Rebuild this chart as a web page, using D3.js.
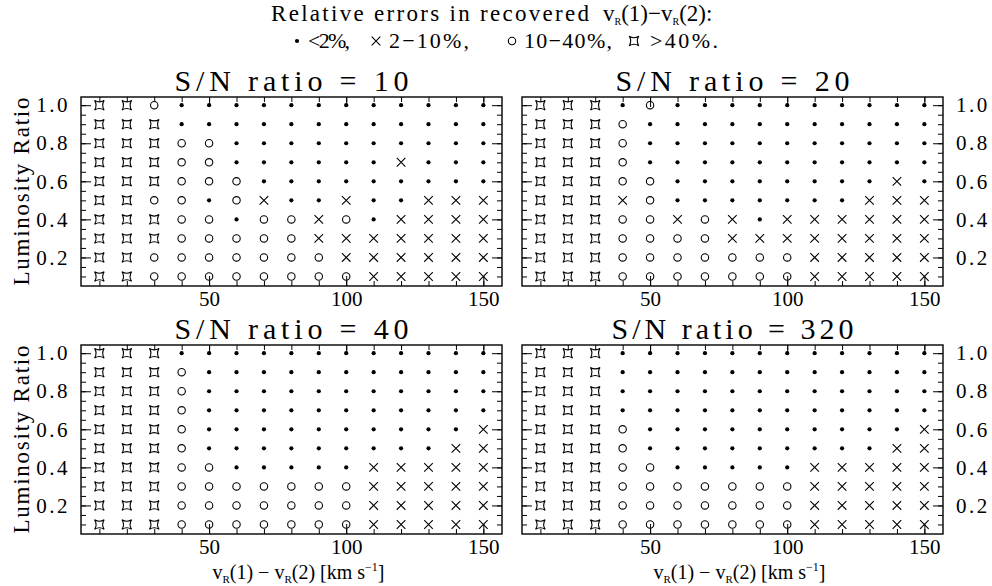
<!DOCTYPE html>
<html><head><meta charset="utf-8">
<script src="https://cdn.jsdelivr.net/npm/d3@7"></script>
<style>body{margin:0;background:#fff}text{font-family:"Liberation Serif",serif;fill:#000}</style>
</head><body>
<svg id="c" width="992" height="586"></svg>
<script>
// ---------- data ----------
const xValues = [10,20,30,40,50,60,70,80,90,100,110,120,130,140,150];
const yValues = [1.0,0.9,0.8,0.7,0.6,0.5,0.4,0.3,0.2,0.1];   // rows top -> bottom
const xTickLabels = [50,100,150];
const xMinorTicks = [10,20,30,40,50,60,70,80,90,100,110,120,130,140,150];
const yTickLabels = [0.2,0.4,0.6,0.8,1.0];
const yMinorTicks = [0.1,0.15,0.2,0.25,0.3,0.35,0.4,0.45,0.5,0.55,0.6,0.65,0.7,0.75,0.8,0.85,0.9,0.95,1.0];
const panelTitles = ["S/N ratio = 10","S/N ratio = 20","S/N ratio = 40","S/N ratio = 320"];
// codes: D = <2%, X = 2-10%, O = 10-40%, S = >40%
const gridSN10 = [
  "SSODDDDDDDDDDDD",
  "SSSDDDDDDDDDDDD",
  "SSSOODDDDDDDDDD",
  "SSSOODDDDDDXDDD",
  "SSSOOODDDDDDDDD",
  "SSOODOXDDXDDXXX",
  "SSSOODOOXODXXXX",
  "SSSOOOOOXXXXXXX",
  "SSOOOOOOOXXXXXX",
  "SSOOOOOOOOXXXXX"];
const gridSN20 = [
  "SSSDODDDDDDDDDD",
  "SSSODDDDDDDDDDD",
  "SSSODDDDDDDDDDD",
  "SSSODDDDDDDDDDD",
  "SSSOODDDDDDDDXD",
  "SSSXODDDDDDDXXX",
  "SSSOOXOXDXXXXXX",
  "SSSOOOOXXXXXXXX",
  "SSSOOOOOOOXXXXX",
  "SSSOOOOOOOXXXXX"];
const gridSN40 = [
  "SSSDDDDDDDDDDDD",
  "SSSODDDDDDDDDDD",
  "SSSODDDDDDDDDDD",
  "SSSODDDDDDDDDDD",
  "SSSODDDDDDDDDDX",
  "SSSODDDDDDDDDXX",
  "SSSOODDDDDXXXXX",
  "SSSOOOOOOOXXXXX",
  "SSSOOOOOOOXXXXX",
  "SSSOOOOOOOXXXXX"];
const gridSN320 = [
  "SSSDDDDDDDDDDDD",
  "SSSDDDDDDDDDDDD",
  "SSSDDDDDDDDDDDD",
  "SSSDDDDDDDDDDDD",
  "SSSODDDDDDDDDDX",
  "SSSODDDDDDDDDXX",
  "SSSOODDDDDXXXXX",
  "SSSOOOOOOOXXXXX",
  "SSSOOOOOOOXXXXX",
  "SSSOOOOOOOXXXXX"];
const legendCodes = ["D","X","O","S"];
const legendLabels = ["<2%,","2\u221210%,","10\u221240%,",">40%."];

// ---------- layout ----------
const svg = d3.select("#c");
const W = 421, H = 189;
const panelX = [81, 522], panelY = [97, 345];
const grids = [gridSN10, gridSN20, gridSN40, gridSN320];
const xDomain = [3.3, 156.8], yDomain = [0.05, 1.043];
const FONT = '"Liberation Serif",serif';

function symbol(g, code, cx, cy) {
  if (code === "D") {
    g.append("circle").attr("cx",cx).attr("cy",cy).attr("r",2.1).attr("fill","#000");
  } else if (code === "X") {
    const s = 4.3;
    g.append("path").attr("d",`M${cx-s},${cy-s}L${cx+s},${cy+s}M${cx-s},${cy+s}L${cx+s},${cy-s}`)
      .attr("stroke","#000").attr("stroke-width",1.1).attr("fill","none");
  } else if (code === "O") {
    g.append("circle").attr("cx",cx).attr("cy",cy).attr("r",3.7).attr("fill","none")
      .attr("stroke","#000").attr("stroke-width",1.1);
  } else {
    const s = 4.8, c = 1.8;
    g.append("path").attr("d",
      `M${cx-s},${cy-s}Q${cx},${cy-c} ${cx+s},${cy-s}Q${cx+c},${cy} ${cx+s},${cy+s}Q${cx},${cy+c} ${cx-s},${cy+s}Q${cx-c},${cy} ${cx-s},${cy-s}Z`)
      .attr("stroke","#000").attr("stroke-width",1.1).attr("fill","none");
  }
}

grids.forEach((grid, i) => {
  const col = i % 2, row = Math.floor(i / 2);
  const x0 = panelX[col], y0 = panelY[row];
  const x = d3.scaleLinear().domain(xDomain).range([x0, x0 + W]);
  const y = d3.scaleLinear().domain(yDomain).range([y0 + H, y0]);
  const g = svg.append("g");

  // ticks (all pointing inward)
  const axes = [
    [d3.axisBottom(x).tickValues(xMinorTicks).tickSize(-5).tickFormat(""), `translate(0,${y0+H})`, 0],
    [d3.axisBottom(x).tickValues(xTickLabels).tickSize(-10).tickPadding(5).tickFormat(d3.format("d")), `translate(0,${y0+H})`, 0],
    [d3.axisTop(x).tickValues(xMinorTicks).tickSize(-5).tickFormat(""), `translate(0,${y0})`, 0],
    [d3.axisTop(x).tickValues(xTickLabels).tickSize(-10).tickFormat(""), `translate(0,${y0})`, 0],
    [d3.axisLeft(y).tickValues(yMinorTicks).tickSize(-5).tickFormat(""), `translate(${x0},0)`, 0],
    [d3.axisLeft(y).tickValues(yTickLabels).tickSize(-10).tickPadding(11).tickFormat(col===0?d3.format(".1f"):""), `translate(${x0},0)`, 1],
    [d3.axisRight(y).tickValues(yMinorTicks).tickSize(-5).tickFormat(""), `translate(${x0+W},0)`, 0],
    [d3.axisRight(y).tickValues(yTickLabels).tickSize(-10).tickPadding(13).tickFormat(col===1?d3.format(".1f"):""), `translate(${x0+W},0)`, 1]
  ];
  axes.forEach(([ax, tr, spaced]) => {
    const a = g.append("g").attr("transform", tr).call(ax);
    a.select(".domain").remove();
    a.selectAll("line").attr("stroke","#000").attr("stroke-width",1);
    a.selectAll("text").style("font-family",FONT).style("font-size","21px").attr("fill","#000")
      .style("letter-spacing", spaced ? "2.5px" : null);
  });

  // box
  g.append("rect").attr("x",x0).attr("y",y0).attr("width",W).attr("height",H)
    .attr("fill","none").attr("stroke","#000").attr("stroke-width",1.4);

  // symbols
  grid.forEach((rowStr, ri) => {
    rowStr.split("").forEach((code, ci) => symbol(g, code, x(xValues[ci]), y(yValues[ri])));
  });

  // title
  svg.append("text").attr("x", x0 + W/2).attr("y", y0 - 6).attr("text-anchor","middle")
    .style("font-size","30px").attr("textLength", i===3?242:234).attr("lengthAdjust","spacing")
    .text(panelTitles[i]);

  // y label
  if (col === 0) {
    svg.append("text").attr("transform",`translate(29,${y0+H/2}) rotate(-90)`)
      .attr("text-anchor","middle").style("font-size","23px")
      .attr("textLength",188).attr("lengthAdjust","spacing").text("Luminosity Ratio");
  }
  // x label
  if (row === 1) {
    const t = svg.append("text").attr("x", x0 + W/2 + 7).attr("y", 579).attr("text-anchor","middle")
      .style("font-size","20px");
    t.append("tspan").text("v");
    t.append("tspan").attr("dy",4).style("font-size","11px").text("R");
    t.append("tspan").attr("dy",-4).text("(1)  \u2212  v");
    t.append("tspan").attr("dy",4).style("font-size","11px").text("R");
    t.append("tspan").attr("dy",-4).text("(2)  [km  s");
    t.append("tspan").attr("dy",-8).style("font-size","12px").text("\u22121");
    t.append("tspan").attr("dy",8).text("]");
  }
});

// ---------- header / legend ----------
svg.append("text").attr("x",271).attr("y",21).style("font-size","23px")
  .attr("textLength",318).attr("lengthAdjust","spacing").text("Relative errors in recovered");
{
  const t = svg.append("text").attr("x",603).attr("y",21).style("font-size","23px");
  t.append("tspan").text("v");
  t.append("tspan").attr("dy",4).style("font-size","10px").text("R");
  t.append("tspan").attr("dy",-4).text("(1)\u2212v");
  t.append("tspan").attr("dy",4).style("font-size","10px").text("R");
  t.append("tspan").attr("dy",-4).text("(2):");
}
const legSymX = [297, 376, 512, 634];
const legTextX = [308, 389, 524, 650];
const legTextW = [42, 80, 88, 68];
const lg = svg.append("g");
legendCodes.forEach((c, k) => {
  symbol(lg, c, legSymX[k], 41);
  svg.append("text").attr("x", legTextX[k]).attr("y", 48).style("font-size","22px")
    .attr("textLength", legTextW[k]).attr("lengthAdjust","spacing").text(legendLabels[k]);
});
</script>
</body></html>
